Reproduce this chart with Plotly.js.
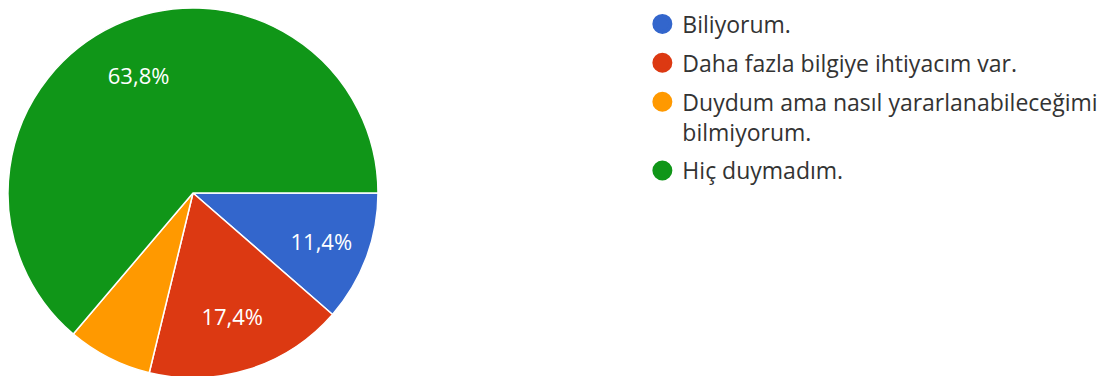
<!DOCTYPE html>
<html>
<head>
<meta charset="utf-8">
<script src="https://cdn.plot.ly/plotly-3.0.1.min.js"></script>
<style>
html,body{margin:0;padding:0;background:#fff;overflow:hidden;}
#chart{width:1118px;height:380px;}
</style>
</head>
<body>
<div id="chart"></div>
<script>
const categories = [
  "Biliyorum.",
  "Daha fazla bilgiye ihtiyacım var.",
  "Duydum ama nasıl yararlanabileceğimi<br>bilmiyorum.",
  "Hiç duymadım."
];
const values = [11.4, 17.4, 7.4, 63.8];
const colors = ["#3366cc", "#dc3912", "#ff9900", "#109618"];

const total = values.reduce((a, b) => a + b, 0);
const templates = values.map(v => (v / total >= 0.1 ? "%{percent:.1%}" : ""));

const FONT = "Open Sans, Liberation Sans, Arial, sans-serif";
const pieDomain = { x: [0, 370 / 1110], y: [0, 1] };

// filled pie (no text)
const pie = {
  type: "pie",
  labels: categories,
  values: values,
  sort: false,
  direction: "clockwise",
  rotation: 90,
  marker: { colors: colors, line: { color: "#ffffff", width: 1.5 } },
  textinfo: "none",
  domain: pieDomain,
  showlegend: false,
  hoverinfo: "label+percent"
};

// transparent ring on top that carries the percentage labels
const labelRing = {
  type: "pie",
  labels: categories,
  values: values,
  sort: false,
  direction: "clockwise",
  rotation: 90,
  hole: 0.4,
  marker: { colors: colors.map(() => "rgba(0,0,0,0)"), line: { width: 0 } },
  texttemplate: templates,
  textposition: "inside",
  insidetextorientation: "horizontal",
  textfont: { family: FONT, size: 22, color: "#ffffff" },
  domain: pieDomain,
  showlegend: false,
  hoverinfo: "skip"
};

const legendTraces = categories.map((c, i) => ({
  type: "scatter",
  mode: "markers",
  x: [null],
  y: [null],
  name: c,
  legendgroup: "g" + i,
  marker: { symbol: "circle", size: 16, color: colors[i], line: { color: colors[i], width: 4 } },
  hoverinfo: "skip"
}));

const layout = {
  width: 1118,
  height: 380,
  margin: { l: 8, r: 0, t: 8, b: 2 },
  paper_bgcolor: "#ffffff",
  plot_bgcolor: "#ffffff",
  separators: ", ",
  showlegend: true,
  xaxis: { visible: false },
  yaxis: { visible: false },
  legend: {
    x: 0.5715,
    xanchor: "left",
    y: 1.015,
    yanchor: "top",
    traceorder: "grouped",
    tracegroupgap: 6,
    valign: "top",
    font: { family: FONT, size: 23, color: "#333333" },
    bgcolor: "rgba(0,0,0,0)",
    borderwidth: 0
  }
};

Plotly.newPlot("chart", [pie, labelRing].concat(legendTraces), layout, { displayModeBar: false, staticPlot: true });
</script>
</body>
</html>
